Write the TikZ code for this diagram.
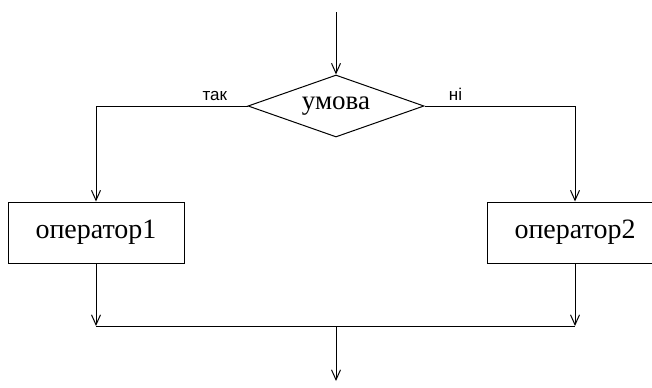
\documentclass[tikz,border=0pt]{standalone}
\usepackage{fontspec}
\setmainfont{Liberation Serif}
\setsansfont{Liberation Sans}
\usetikzlibrary{positioning,arrows,arrows.meta,shapes.geometric}
\tikzstyle{line}=[-, line width=0.5pt]
\tikzstyle{flow}=[line, -{Straight Barb[length=5pt,width=4.5pt]}]
\tikzstyle{condbox}=[diamond, draw, line width=0.5pt, aspect=2.84, minimum width=88pt, minimum height=31pt, inner sep=0pt, font=\fontsize{13.5}{15}\selectfont]
\tikzstyle{opbox}=[rectangle, draw, line width=0.5pt, minimum width=88pt, minimum height=30.5pt, inner sep=2pt, font=\fontsize{14}{16}\selectfont]
\tikzstyle{branch}=[font=\sffamily\fontsize{8.5}{10}\selectfont, inner sep=1pt]

\begin{document}
\begin{tikzpicture}[x=0.5pt, y=0.5pt]

    \useasboundingbox (0,0) rectangle (652,387);

    \coordinate (in) at (336,375);
    \node (cond) [condbox] at (336,281) {умова};

    \node (op1) [opbox] at (96,154.5) {оператор1};
    \node (op2) [opbox] at (575,154.5) {оператор2};

    \node (yes) [branch, above left=1.5pt and 9pt of cond.west] {так};
    \node (no) [branch, above right=1.5pt and 11pt of cond.east] {ні};

    \coordinate (joinl) at (96,61);
    \coordinate (joinr) at (575,61);
    \coordinate (joinm) at (336,61);
    \coordinate (out) at (336,6);

%branches
   \draw[flow] (in) -- (cond.north);
   \draw[flow] (cond.west) -| (op1.north);
   \draw[flow] (cond.east) -| (op2.north);

%merge
   \draw[flow] (op1.south) -- (joinl);
   \draw[flow] (op2.south) -- (joinr);
   \draw[line] (joinl) -- (joinr);
   \draw[flow] (joinm) -- (out);

\end{tikzpicture}
\end{document}
